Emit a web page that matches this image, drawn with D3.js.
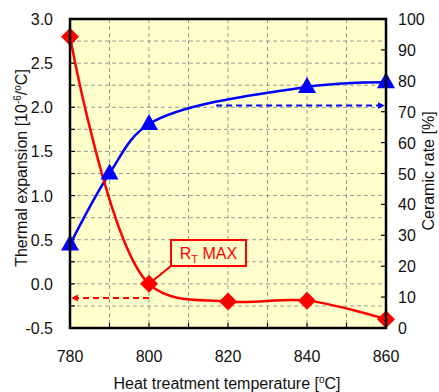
<!DOCTYPE html>
<html lang="en">
<head>
<meta charset="utf-8" />
<title>Thermal expansion and ceramic rate</title>
<script src="https://d3js.org/d3.v7.min.js"></script>
<style>
    body { margin: 0; background: #fff; }
    svg { font-family: "Liberation Sans", Arial, sans-serif; }
    .tick-label { font-size: 16px; fill: #111; }
    .axis-title { font-size: 16px; fill: #111; }
</style>
</head>
<body>
<svg width="439" height="392"></svg>
<script>
    // data
    const temps = [780, 790, 800, 840, 860];
    const ceramicRate = [27, 50, 66, 78, 79.5];          // right axis, %
    const expTemps = [780, 800, 820, 840, 860];
    const thermalExp = [2.8, 0.0, -0.2, -0.19, -0.4];    // left axis, 10^-6/°C

    const xTicks = [780, 800, 820, 840, 860];
    const leftTicks = [-0.5, 0.0, 0.5, 1.0, 1.5, 2.0, 2.5, 3.0];
    const rightTicks = [0, 10, 20, 30, 40, 50, 60, 70, 80, 90, 100];

    // dashed guide arrows
    const redArrow = { from: 800, to: 780.5, value: -0.16 };
    const blueArrow = { from: 817, to: 859.5, value: 72 };

    const svg = d3.select("svg");
    const margin = { top: 19, right: 53, bottom: 64, left: 70 };
    const width = +svg.attr("width");
    const height = +svg.attr("height");

    const x = d3.scaleLinear().domain([780, 860]).range([margin.left, width - margin.right]);
    const yL = d3.scaleLinear().domain([-0.5, 3.0]).range([height - margin.bottom, margin.top]);
    const yR = d3.scaleLinear().domain([0, 100]).range([height - margin.bottom, margin.top]);

    const defs = svg.append("defs");
    function arrowHead(id, color) {
        defs.append("marker")
            .attr("id", id)
            .attr("viewBox", "0 0 10 10")
            .attr("refX", 9).attr("refY", 5)
            .attr("markerWidth", 7).attr("markerHeight", 7)
            .attr("markerUnits", "userSpaceOnUse")
            .attr("orient", "auto")
            .append("path").attr("d", "M0,0L10,5L0,10Z").attr("fill", color);
    }
    arrowHead("arrRed", "#ff0000");
    arrowHead("arrBlue", "#0000ff");

    // plot background
    svg.append("rect")
        .attr("x", x(780)).attr("y", yL(3))
        .attr("width", x(860) - x(780)).attr("height", yL(-0.5) - yL(3))
        .attr("fill", "#ffffcc");

    // grid
    const grid = svg.append("g").attr("stroke", "#999").attr("stroke-dasharray", "4,3").attr("stroke-width", 1);
    grid.selectAll("line.v")
        .data(d3.range(790, 860, 10))
        .join("line")
        .attr("x1", d => x(d)).attr("x2", d => x(d))
        .attr("y1", yL(3)).attr("y2", yL(-0.5));
    grid.selectAll("line.h")
        .data(d3.range(-0.25, 3.0, 0.25))
        .join("line")
        .attr("x1", x(780)).attr("x2", x(860))
        .attr("y1", d => yL(d)).attr("y2", d => yL(d));

    // inner tick marks
    const ticks = svg.append("g").attr("stroke", "#000").attr("stroke-width", 1.2);
    ticks.selectAll("line.b")
        .data(d3.range(780, 861, 10))
        .join("line")
        .attr("x1", d => x(d)).attr("x2", d => x(d))
        .attr("y1", yL(-0.5)).attr("y2", yL(-0.5) - 5);
    ticks.selectAll("line.l")
        .data(d3.range(-0.5, 3.01, 0.25))
        .join("line")
        .attr("x1", x(780)).attr("x2", x(780) + 5)
        .attr("y1", d => yL(d)).attr("y2", d => yL(d));
    ticks.selectAll("line.r")
        .data(rightTicks)
        .join("line")
        .attr("x1", x(860)).attr("x2", x(860) - 5)
        .attr("y1", d => yR(d)).attr("y2", d => yR(d));

    // series lines
    const blueLine = d3.line()
        .x((d, i) => x(temps[i]))
        .y(d => yR(d))
        .curve(d3.curveCatmullRom.alpha(0.5));
    svg.append("path")
        .datum(ceramicRate)
        .attr("d", blueLine)
        .attr("fill", "none").attr("stroke", "#0000ff").attr("stroke-width", 2.5);

    const redLine = d3.line()
        .x((d, i) => x(expTemps[i]))
        .y(d => yL(d))
        .curve(d3.curveCatmullRom.alpha(0.5));
    svg.append("path")
        .datum(thermalExp)
        .attr("d", redLine)
        .attr("fill", "none").attr("stroke", "#ff0000").attr("stroke-width", 2.5);

    // dashed arrows
    svg.append("line")
        .attr("x1", x(redArrow.from)).attr("x2", x(redArrow.to))
        .attr("y1", yL(redArrow.value)).attr("y2", yL(redArrow.value))
        .attr("stroke", "#ff0000").attr("stroke-width", 2)
        .attr("stroke-dasharray", "6,4")
        .attr("marker-end", "url(#arrRed)");
    svg.append("line")
        .attr("x1", x(blueArrow.from)).attr("x2", x(blueArrow.to))
        .attr("y1", yR(blueArrow.value)).attr("y2", yR(blueArrow.value))
        .attr("stroke", "#0000ff").attr("stroke-width", 2)
        .attr("stroke-dasharray", "6,4")
        .attr("marker-end", "url(#arrBlue)");

    // R_T MAX callout
    const box = { x: 171, y: 240, w: 75, h: 26 };
    svg.append("line")
        .attr("x1", box.x).attr("y1", box.y + box.h)
        .attr("x2", x(800)).attr("y2", yL(0))
        .attr("stroke", "#ff0000").attr("stroke-width", 2);
    svg.append("rect")
        .attr("x", box.x).attr("y", box.y).attr("width", box.w).attr("height", box.h)
        .attr("fill", "#ffffcc").attr("stroke", "#ff0000").attr("stroke-width", 2);
    const lbl = svg.append("text")
        .attr("x", box.x + box.w / 2).attr("y", box.y + 19)
        .attr("text-anchor", "middle")
        .attr("fill", "#ff0000").style("font-size", "16px");
    lbl.append("tspan").text("R");
    lbl.append("tspan").attr("dy", 4).style("font-size", "11px").text("T");
    lbl.append("tspan").attr("dy", -4).text(" MAX");

    // markers
    svg.append("g").selectAll("path")
        .data(thermalExp)
        .join("path")
        .attr("transform", (d, i) => `translate(${x(expTemps[i])},${yL(d)})`)
        .attr("d", "M0,-9L9,0L0,9L-9,0Z")
        .attr("fill", "#ff0000");
    svg.append("g").selectAll("path")
        .data(ceramicRate)
        .join("path")
        .attr("transform", (d, i) => `translate(${x(temps[i])},${yR(d)})`)
        .attr("d", "M0,-10L9,6L-9,6Z")
        .attr("fill", "#0000ff");

    // frame
    svg.append("rect")
        .attr("x", x(780)).attr("y", yL(3))
        .attr("width", x(860) - x(780)).attr("height", yL(-0.5) - yL(3))
        .attr("fill", "none").attr("stroke", "#000").attr("stroke-width", 2.5);

    // tick labels
    svg.append("g").selectAll("text")
        .data(xTicks)
        .join("text")
        .attr("class", "tick-label")
        .attr("x", d => x(d)).attr("y", 362)
        .attr("text-anchor", "middle")
        .text(d => d);
    svg.append("g").selectAll("text")
        .data(leftTicks)
        .join("text")
        .attr("class", "tick-label")
        .attr("x", 53).attr("y", d => yL(d) + 6)
        .attr("text-anchor", "end")
        .text(d => d3.format(".1f")(d).replace("−", "-"));
    svg.append("g").selectAll("text")
        .data(rightTicks)
        .join("text")
        .attr("class", "tick-label")
        .attr("x", 398).attr("y", d => yR(d) + 6)
        .attr("text-anchor", "start")
        .text(d => d);

    // axis titles
    const bt = svg.append("text")
        .attr("class", "axis-title")
        .attr("x", 227).attr("y", 389)
        .attr("text-anchor", "middle");
    bt.append("tspan").text("Heat treatment temperature [");
    bt.append("tspan").attr("dy", -6).style("font-size", "10px").text("o");
    bt.append("tspan").attr("dy", 6).text("C]");

    const lt = svg.append("text")
        .attr("class", "axis-title")
        .attr("transform", "translate(27,168) rotate(-90)")
        .attr("text-anchor", "middle");
    lt.append("tspan").text("Thermal expansion [10");
    lt.append("tspan").attr("dy", -6).style("font-size", "10px").text("-6");
    lt.append("tspan").attr("dy", 6).text("/");
    lt.append("tspan").attr("dy", -6).style("font-size", "10px").text("o");
    lt.append("tspan").attr("dy", 6).text("C]");

    svg.append("text")
        .attr("class", "axis-title")
        .attr("transform", "translate(434,171) rotate(-90)")
        .attr("text-anchor", "middle")
        .text("Ceramic rate [%]");
</script>
</body>
</html>
